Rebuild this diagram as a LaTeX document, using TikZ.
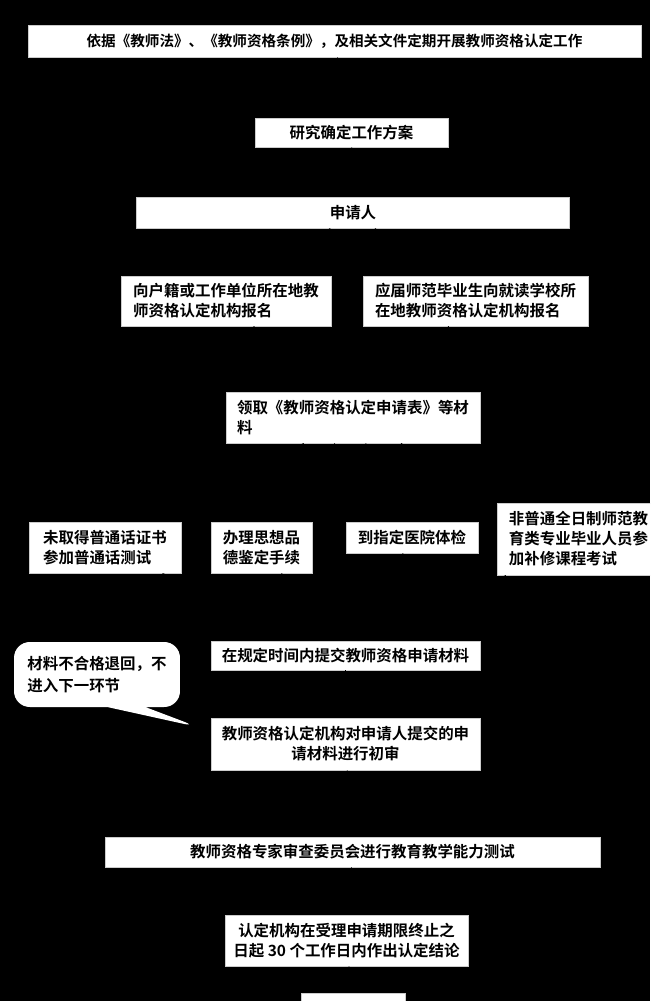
\documentclass[tikz,border=0pt]{standalone}
\usepackage{fontspec}
\newfontfamily\cjk{Noto Sans CJK SC}[BoldFont={Noto Sans CJK SC Bold}]
\usetikzlibrary{arrows,positioning,shapes,shapes.callouts}

\begin{document}
\begin{tikzpicture}[x=0.02cm, y=-0.02cm, flow/.style={->,>=stealth,black}, step box/.style={draw=white!80!black,fill=white,inner sep=2pt,font=\cjk\bfseries\fontsize{8.8}{11.4}\selectfont}]
\useasboundingbox (0,0) rectangle (650,1001);
\fill[black] (0,0) rectangle (650,1001);
\clip (0,0) rectangle (650,1001);
\begin{scope}[every node/.style={step box}]
\node (v1) at (334.5,41) [minimum width=12.26cm,minimum height=0.64cm,font=\cjk\bfseries\fontsize{8.3}{10}\selectfont] {依据《教师法》、《教师资格条例》，及相关文件定期开展教师资格认定工作};
\node (v2) at (351.5,132.5) [minimum width=3.86cm,minimum height=0.58cm] {研究确定工作方案};
\node (v3) at (353,212.5) [minimum width=8.66cm,minimum height=0.62cm] {申请人};
\node (v4) at (226,301) [minimum width=4.2cm,minimum height=1cm,align=left] {向户籍或工作单位所在地教\\师资格认定机构报名};
\node (v5) at (475.5,301) [minimum width=4.5cm,minimum height=1cm,align=left] {应届师范毕业生向就读学校所\\在地教师资格认定机构报名};
\node (v6) at (353,417.5) [minimum width=5.08cm,minimum height=1.02cm,align=left] {领取《教师资格认定申请表》等材\\料};
\node (v7) at (105,547.5) [minimum width=3.04cm,minimum height=1.02cm,align=left] {未取得普通话证书\\参加普通话测试};
\node (v8) at (261.5,547.5) [minimum width=2.02cm,minimum height=1.02cm,align=left] {办理思想品\\德鉴定手续};
\node (v9) at (412,537.5) [minimum width=2.64cm,minimum height=0.62cm] {到指定医院体检};
\node (v10) at (578.5,539) [minimum width=3.26cm,minimum height=1.44cm,align=left] {非普通全日制师范教\\育类专业毕业人员参\\加补修课程考试};
\node (v11) at (345.5,655.5) [minimum width=5.38cm,minimum height=0.58cm] {在规定时间内提交教师资格申请材料};
\node (v13) at (345.5,744) [minimum width=5.38cm,minimum height=1.04cm,align=center] {教师资格认定机构对申请人提交的申\\请材料进行初审};
\node (v14) at (352.5,852) [minimum width=9.9cm,minimum height=0.6cm] {教师资格专家审查委员会进行教育教学能力测试};
\node (v15) at (346.5,940.5) [minimum width=4.86cm,minimum height=1.02cm,align=center] {认定机构在受理申请期限终止之\\日起 30 个工作日内作出认定结论};
\node (v16) at (353,1008) [minimum width=2.08cm,minimum height=0.6cm] {};
\node (v12) at (97,674.5) [rectangle callout,rounded corners=9pt,draw=none,minimum width=3.32cm,minimum height=1.3cm,align=left,font=\cjk\bfseries\fontsize{8.8}{13}\selectfont,callout absolute pointer={(198,727)},callout pointer width=0.76cm] {材料不合格退回，不\\进入下一环节};
\end{scope}
\begin{scope}
\draw[flow] (v1) -- (v2);
\draw[flow] (v2) -- (v3);
\draw[flow] (v3) -- (v4);
\draw[flow] (v3) -- (v5);
\draw[flow] (v4) -- (v6);
\draw[flow] (v5) -- (v6);
\draw[flow] (v6) -- (v7);
\draw[flow] (v6) -- (v8);
\draw[flow] (v6) -- (v9);
\draw[flow] (v6) -- (v10);
\draw[flow] (v7) -- (v11);
\draw[flow] (v8) -- (v11);
\draw[flow] (v9) -- (v11);
\draw[flow] (v10) -- (v11);
\draw[flow] (v11) -- (v13);
\draw[flow] (v13) -- (v14);
\draw[flow] (v14) -- (v15);
\draw[flow] (v15) -- (v16);
\end{scope}
\end{tikzpicture}
\end{document}
